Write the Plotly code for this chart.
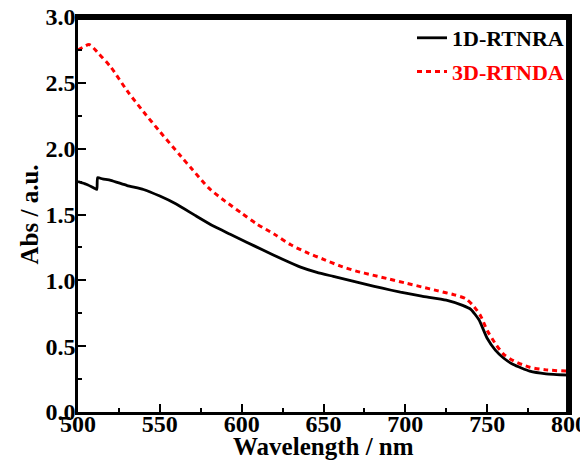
import plotly.graph_objects as go

wl_1d = [500, 505, 510, 511.5, 512, 515, 520, 530, 540, 550, 560, 572, 583, 593, 603, 613, 625, 636,
         646, 656, 666, 676, 686, 697, 710, 725, 735, 740, 745, 750, 755, 760, 766, 776, 786, 800]
abs_1d = [1.75, 1.73, 1.70, 1.69, 1.78, 1.77, 1.76, 1.72, 1.69, 1.64, 1.58, 1.49, 1.41, 1.35, 1.29, 1.23, 1.16, 1.10,
          1.06, 1.03, 1.00, 0.97, 0.94, 0.91, 0.88, 0.85, 0.81, 0.78, 0.70, 0.56, 0.47, 0.41, 0.36, 0.31, 0.29, 0.28]

wl_3d = [500, 503, 507, 512, 520, 530, 540, 550, 563, 570, 580, 590, 600, 609, 620, 630, 640, 650,
         660, 670, 680, 690, 700, 710, 720, 730, 737, 742, 746, 750, 755, 760, 766, 776, 786, 800]
abs_3d = [2.75, 2.77, 2.79, 2.73, 2.62, 2.44, 2.28, 2.13, 1.94, 1.84, 1.70, 1.60, 1.51, 1.43, 1.35, 1.27, 1.21, 1.16,
          1.11, 1.07, 1.04, 1.01, 0.98, 0.95, 0.92, 0.89, 0.86, 0.80, 0.73, 0.62, 0.52, 0.44, 0.39, 0.34, 0.32, 0.31]

x_ticks = [500, 550, 600, 650, 700, 750, 800]
y_ticks = [0.0, 0.5, 1.0, 1.5, 2.0, 2.5, 3.0]

font_family = "Liberation Serif"

fig = go.Figure()
fig.add_trace(go.Scatter(x=wl_1d, y=abs_1d, mode="lines", name="<b>1D-RTNRA</b>",
                         line=dict(color="black", width=2.8, shape="spline", smoothing=0.5), legendgroup="a"))
fig.add_trace(go.Scatter(x=wl_3d, y=abs_3d, mode="lines",
                         name="<b><span style='color:#ff0000'>3D-RTNDA</span></b>",
                         line=dict(color="#ff0000", width=3, dash="5px,4px", shape="spline", smoothing=0.8),
                         legendgroup="b"))

axis_common = dict(showline=True, linecolor="black", linewidth=2.5, mirror=True,
                   ticks="inside", ticklen=8, tickwidth=2, tickcolor="black",
                   showgrid=False, zeroline=False, automargin=False,
                   ticklabeloverflow="allow",
                   tickfont=dict(family=font_family, size=24, color="black"))

fig.update_xaxes(range=[500, 800], tickvals=x_ticks, ticktext=[f"<b>{v}</b>" for v in x_ticks],
                 minor=dict(ticks="inside", ticklen=4, tickwidth=2, dtick=25, tick0=500, tickcolor="black"),
                 ticklabelstandoff=-12,
                 **axis_common)
fig.update_yaxes(range=[0, 3.0], tickvals=y_ticks, ticktext=[f"<b>{v:.1f}</b>" for v in y_ticks],
                 minor=dict(ticks="inside", ticklen=4, tickwidth=2, dtick=0.25, tick0=0, tickcolor="black"),
                 ticklabelstandoff=-5,
                 **axis_common)

# frame box (top and right edges, drawn just inside the plot area)
fig.add_shape(type="line", xref="paper", yref="paper", x0=0, x1=1.0, y0=0.996, y1=0.996,
              line=dict(color="black", width=3), layer="above")
fig.add_shape(type="line", xref="paper", yref="paper", x0=0.997, x1=0.997, y0=0, y1=1.0,
              line=dict(color="black", width=3), layer="above")

fig.add_annotation(text="<b>Wavelength / nm</b>", xref="paper", yref="paper", x=0.499, y=-0.0886,
                   xanchor="center", yanchor="middle", showarrow=False,
                   font=dict(family=font_family, size=25, color="black"))
fig.add_annotation(text="<b>Abs / a.u.</b>", xref="paper", yref="paper", x=-0.0978, y=0.5,
                   xanchor="center", yanchor="middle", showarrow=False, textangle=-90,
                   font=dict(family=font_family, size=25, color="black"))

# page has an 8px body margin, so the figure is sized/offset to compensate
fig.update_layout(
    width=580, height=458,
    margin=dict(l=70, r=19, t=9, b=54, autoexpand=False),
    paper_bgcolor="white", plot_bgcolor="white",
    font=dict(family=font_family, color="black"),
    legend=dict(x=1.0, y=1.0, xanchor="right", yanchor="top",
                bgcolor="rgba(0,0,0,0)", font=dict(family=font_family, size=22, color="black"),
                traceorder="grouped", tracegroupgap=2),
    showlegend=True,
)

fig.write_html("out.html")
